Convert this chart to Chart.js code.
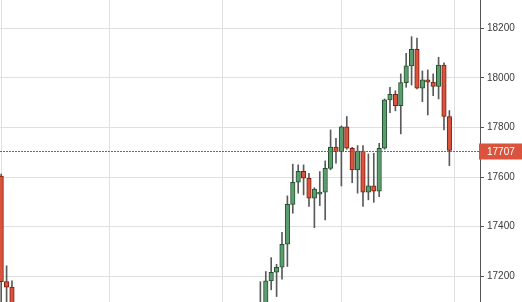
<!DOCTYPE html>
<html>
<head>
<meta charset="utf-8">
<script src="https://cdn.jsdelivr.net/npm/chart.js@4.4.1/dist/chart.umd.min.js"></script>
<style>
  html, body { margin: 0; padding: 0; background: #fff; }
  #wrap { width: 522px; height: 302px; }
</style>
</head>
<body>
<div id="wrap"><canvas id="candleChart"></canvas></div>
<script>
// trading day index (days 3..47 sit below the visible price range)
var days  = [0, 1, 2, 48, 49, 50, 51, 52, 53, 54, 55, 56, 57, 58, 59, 60, 61, 62, 63, 64, 65,
             66, 67, 68, 69, 70, 71, 72, 73, 74, 75, 76, 77, 78, 79, 80, 81, 82, 83];
var open  = [17604, 17178, 17156, 17060, 17090, 17181, 17216, 17236, 17329, 17490, 17579, 17623, 17595,
             17515, 17531, 17539, 17635, 17721, 17702, 17802, 17716, 17629, 17705, 17539, 17565, 17543,
             17716, 17911, 17934, 17888, 17981, 18048, 18115, 17958, 17992, 17983, 17965, 18052, 17844];
var high  = [17612, 17242, 17181, 17178, 17219, 17275, 17248, 17377, 17524, 17652, 17649, 17649, 17615,
             17557, 17622, 17665, 17790, 17756, 17806, 17844, 17720, 17727, 17727, 17693, 17696, 17736,
             17915, 17962, 17948, 18016, 18099, 18166, 18160, 18028, 18032, 18016, 18083, 18061, 17868];
var low   = [17060, 17070, 17040, 17030, 17070, 17145, 17118, 17188, 17239, 17454, 17535, 17528, 17481,
             17396, 17485, 17427, 17629, 17656, 17564, 17712, 17577, 17535, 17481, 17508, 17498, 17521,
             17712, 17860, 17867, 17774, 17962, 17971, 17955, 17904, 17850, 17928, 17915, 17790, 17646];
var close = [17178, 17156, 17060, 17090, 17181, 17216, 17236, 17329, 17490, 17579, 17623, 17595, 17515,
             17551, 17539, 17635, 17721, 17702, 17802, 17716, 17629, 17705, 17539, 17565, 17543, 17716,
             17911, 17934, 17888, 17981, 18048, 18115, 17958, 17992, 17983, 17965, 18052, 17844, 17707];

var yTicks = [17200, 17400, 17600, 17800, 18000, 18200];
var monthStarts = [0, 20, 41, 63, 84];

var upFill = '#5c9d70', upLine = '#24512f';
var downFill = '#d9533d', downLine = '#7d1f12';

var bodies = days.map(function(d, i) { return { x: d, y: [open[i], close[i]] }; });
var wicks  = days.map(function(d, i) { return { x: d, y: [low[i], high[i]] }; });
var isUp   = days.map(function(d, i) { return close[i] >= open[i]; });

// dashed last-price line + red price tag on the axis
var lastPricePlugin = {
  id: 'lastPrice',
  afterDraw: function(chart) {
    var ctx = chart.ctx, area = chart.chartArea;
    var price = close[close.length - 1];
    var py = Math.round(chart.scales.y.getPixelForValue(price)) + 0.5;
    ctx.save();
    ctx.globalAlpha = 1;
    ctx.strokeStyle = 'rgb(255, 51, 17)';
    ctx.lineWidth = 1;
    ctx.setLineDash([2, 1]);
    ctx.beginPath();
    ctx.moveTo(area.left, py);
    ctx.lineTo(area.right, py);
    ctx.stroke();
    ctx.setLineDash([]);
    ctx.fillStyle = '#d9533d';
    ctx.fillRect(area.right - 1, py - 8, chart.width - area.right + 1, 16);
    ctx.fillStyle = '#fff';
    ctx.font = '10px "Liberation Sans", Arial, sans-serif';
    ctx.textBaseline = 'middle';
    ctx.textAlign = 'left';
    ctx.fillText(String(price), area.right + 7, py + 0.5);
    ctx.restore();
  }
};

var ctx = document.getElementById('candleChart');
new Chart(ctx, {
  type: 'bar',
  data: {
    datasets: [
      {
        data: bodies,
        backgroundColor: isUp.map(function(u) { return u ? upFill : downFill; }),
        borderColor: isUp.map(function(u) { return u ? upLine : downLine; }),
        borderWidth: 1,
        borderSkipped: false,
        barThickness: 4.5,
        grouped: false,
        order: 0
      },
      {
        data: wicks,
        backgroundColor: '#5a5a5a',
        borderWidth: 0,
        barThickness: 1,
        grouped: false,
        order: 1
      }
    ]
  },
  options: {
    responsive: true,
    maintainAspectRatio: false,
    animation: false,
    layout: { padding: 0 },
    plugins: {
      legend: { display: false },
      tooltip: { enabled: false }
    },
    scales: {
      x: {
        type: 'linear',
        offset: false,
        min: -0.22,
        max: 88.67,
        afterBuildTicks: function(scale) {
          scale.ticks = monthStarts.map(function(v) { return { value: v }; });
        },
        afterFit: function(scale) {
          scale.height = 0;
          scale.paddingLeft = 0;
          scale.paddingRight = 0;
        },
        ticks: { display: false },
        grid: { color: '#e0e0e0', drawTicks: false, offset: false },
        border: { display: false }
      },
      y: {
        position: 'right',
        min: 17096,
        max: 18314,
        afterBuildTicks: function(scale) {
          scale.ticks = yTicks.map(function(v) { return { value: v }; });
        },
        afterFit: function(scale) {
          scale.width = 42;
          scale.paddingTop = 0;
          scale.paddingBottom = 0;
        },
        grid: { color: '#e0e0e0', tickColor: '#555', tickLength: 4 },
        border: { color: '#555', width: 1 },
        ticks: {
          color: '#3a3a3a',
          padding: 3,
          font: { family: '"Liberation Sans", Arial, sans-serif', size: 10 },
          callback: function(v) { return String(v); }
        }
      }
    }
  },
  plugins: [lastPricePlugin]
});
</script>
</body>
</html>
